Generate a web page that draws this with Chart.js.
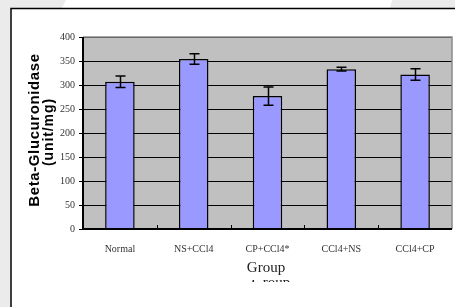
<!DOCTYPE html>
<html lang="en">
<head>
  <meta charset="UTF-8">
  <title>Beta-Glucuronidase by Group</title>
  <script src="https://cdn.jsdelivr.net/npm/chart.js"></script>
  <style>
    html, body { margin: 0; padding: 0; background: #fff; }
    #wrap { width: 455px; height: 307px; }
  </style>
</head>
<body>
  <div id="wrap"><canvas id="chart" width="455" height="307"></canvas></div>

  <script>
    const groups = ['Normal', 'NS+CCl4', 'CP+CCl4*', 'CCl4+NS', 'CCl4+CP'];
    const means = [307, 354, 277, 333, 322];
    const errors = [12, 11, 19, 4, 12];
    const yTicks = [0, 50, 100, 150, 200, 250, 300, 350, 400];

    // page background, frame and the two axis titles
    const framePlugin = {
      id: 'frame',
      beforeDraw(chart) {
        const ctx = chart.ctx;
        ctx.save();
        ctx.fillStyle = '#fff';
        ctx.fillRect(0, 0, 455, 307);
        ctx.fillStyle = '#ebebeb';
        ctx.fillRect(0, 0, 10, 307);
        ctx.beginPath();
        ctx.moveTo(0, 0); ctx.lineTo(66, 0); ctx.lineTo(62, 8); ctx.lineTo(0, 8);
        ctx.fill();
        ctx.beginPath();
        ctx.moveTo(392, 0); ctx.lineTo(455, 0); ctx.lineTo(455, 8); ctx.lineTo(390, 8);
        ctx.fill();
        ctx.strokeStyle = '#000';
        ctx.lineWidth = 1.5;
        ctx.beginPath();
        ctx.moveTo(11, 307); ctx.lineTo(11, 8.5); ctx.lineTo(455, 8.5);
        ctx.stroke();
        // plot background
        const a = chart.chartArea;
        ctx.fillStyle = '#c0c0c0';
        ctx.fillRect(a.left, a.top, a.right - a.left, a.bottom - a.top);
        ctx.restore();
      },
      afterDraw(chart) {
        const ctx = chart.ctx;
        const area = chart.chartArea;
        ctx.save();
        // y title, two lines
        ctx.fillStyle = '#000';
        ctx.font = 'bold 15px "Liberation Sans"';
        ctx.letterSpacing = '0.6px';
        ctx.textAlign = 'center';
        ctx.textBaseline = 'middle';
        ctx.translate(35, 130);
        ctx.rotate(-Math.PI / 2);
        ctx.fillText('Beta-Glucuronidase', 0, 0);
        ctx.font = 'bold 14px "Liberation Sans"';
        ctx.letterSpacing = '0.9px';
        ctx.fillText('(unit/mg)', -2, 14);
        ctx.restore();

        ctx.save();
        ctx.fillStyle = '#222';
        ctx.font = '15px "Liberation Serif"';
        ctx.textAlign = 'center';
        ctx.textBaseline = 'middle';
        ctx.fillText('Group', 266, 268);
        // clipped copy below, only its top shows
        ctx.beginPath();
        ctx.rect(240, 280, 70, 2);
        ctx.clip();
        ctx.textBaseline = 'alphabetic';
        ctx.fillText('Group', 271, 287);
        ctx.restore();

        // small ticks on the x axis, pointing up
        ctx.save();
        ctx.strokeStyle = '#000';
        ctx.lineWidth = 1;
        const xs = chart.scales.x;
        for (let i = 1; i < groups.length; i++) {
          const x = Math.round((xs.getPixelForTick(i - 1) + xs.getPixelForTick(i)) / 2) + 0.5;
          ctx.beginPath();
          ctx.moveTo(x, area.bottom);
          ctx.lineTo(x, area.bottom - 4);
          ctx.stroke();
        }
        // plot border top/right
        ctx.strokeStyle = '#8a8a8a';
        ctx.lineWidth = 1.5;
        ctx.beginPath();
        ctx.moveTo(area.left, area.top);
        ctx.lineTo(area.right, area.top);
        ctx.lineTo(area.right, area.bottom);
        ctx.stroke();
        // axes
        ctx.strokeStyle = '#000';
        ctx.lineWidth = 2;
        ctx.beginPath();
        ctx.moveTo(area.left, area.top);
        ctx.lineTo(area.left, area.bottom);
        ctx.lineTo(area.right, area.bottom);
        ctx.stroke();
        ctx.restore();
      }
    };

    const errorBars = {
      id: 'errorBars',
      afterDatasetsDraw(chart) {
        const ctx = chart.ctx;
        const ys = chart.scales.y;
        const meta = chart.getDatasetMeta(0);
        ctx.save();
        ctx.strokeStyle = '#000';
        ctx.lineWidth = 1.5;
        meta.data.forEach((bar, i) => {
          const x = Math.round(bar.x) + 0.5;
          const top = ys.getPixelForValue(means[i] + errors[i]);
          const bot = ys.getPixelForValue(means[i] - errors[i]);
          ctx.beginPath();
          ctx.moveTo(x, top); ctx.lineTo(x, bot);
          ctx.moveTo(x - 5, top); ctx.lineTo(x + 5, top);
          ctx.moveTo(x - 5, bot); ctx.lineTo(x + 5, bot);
          ctx.stroke();
        });
        ctx.restore();
      }
    };

    new Chart(document.getElementById('chart'), {
      type: 'bar',
      data: {
        labels: groups,
        datasets: [{
          data: means,
          backgroundColor: '#9999ff',
          borderColor: '#000',
          borderWidth: 1.5,
          barPercentage: 0.8,
          categoryPercentage: 0.5
        }]
      },
      options: {
        responsive: false,
        animation: false,
        events: [],
        layout: { padding: { top: 37, right: 3, left: 0, bottom: 0 } },
        plugins: { legend: { display: false }, tooltip: { enabled: false } },
        scales: {
          x: {
            grid: { display: false, drawTicks: false },
            border: { display: false },
            ticks: {
              color: '#333',
              padding: 14,
              maxRotation: 0,
              font: { family: '"Liberation Serif"', size: 10 }
            },
            afterFit(s) { s.height = 78; }
          },
          y: {
            min: 0,
            max: 400,
            afterBuildTicks(s) { s.ticks = yTicks.map(v => ({ value: v })); },
            grid: { color: '#000', lineWidth: 1, tickLength: 4, drawTicks: true },
            border: { display: false },
            ticks: {
              color: '#333',
              padding: 4,
              font: { family: '"Liberation Serif"', size: 10 }
            },
            afterFit(s) { s.width = 83; }
          }
        }
      },
      plugins: [framePlugin, errorBars]
    });
  </script>
</body>
</html>
